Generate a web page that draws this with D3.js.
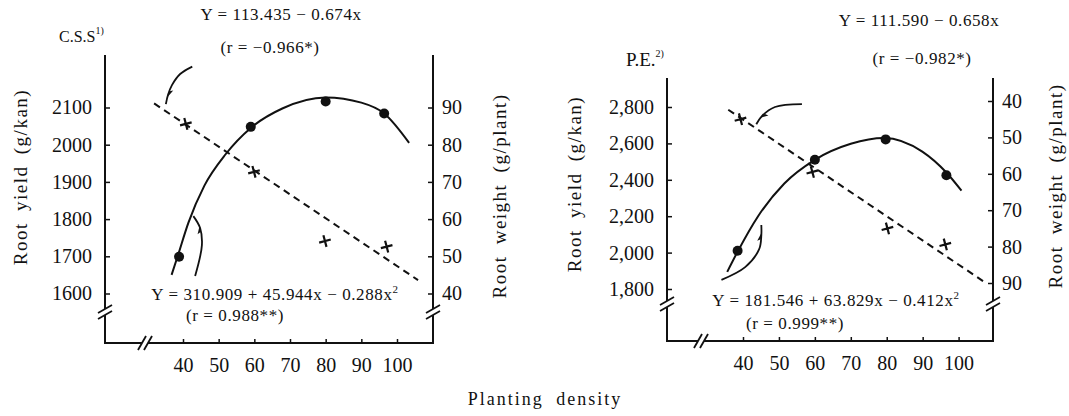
<!DOCTYPE html>
<html>
<head>
<meta charset="utf-8">
<script src="https://cdn.jsdelivr.net/npm/d3@7"></script>
<style>
  body { margin: 0; background: #fff; }
  svg text { font-family: "Liberation Serif", "Times New Roman", serif; fill: #111; }
</style>
</head>
<body>
<svg id="chart" width="1069" height="416"></svg>
<script>
// ---- data ----
const densityTicks = [40, 50, 60, 70, 80, 90, 100];

// C.S.S panel
const cssYieldTicks = [1600, 1700, 1800, 1900, 2000, 2100];
const cssWeightTicks = [40, 50, 60, 70, 80, 90];
const cssYieldDensity = [38.9, 59.0, 80.0, 96.4];
const cssYield = [1699, 2048, 2116, 2084];
const cssWeightDensity = [40.8, 59.9, 79.8, 97.1];
const cssWeight = [85.6, 72.7, 54.1, 52.6];
// fitted curve / line as drawn
const cssCurveDensity = [36.8, 38.5, 41.5, 46, 52, 59, 68, 80, 90, 96.4, 103.4];
const cssCurveYield = [1650, 1700, 1790, 1890, 1975, 2045, 2098, 2127, 2113, 2084, 2005];
const cssLineDensity = [31.9, 105.9];
const cssLineWeight = [91.1, 43.6];

// P.E. panel
const peYieldTicks = [1800, 2000, 2200, 2400, 2600, 2800];
const peWeightTicks = [40, 50, 60, 70, 80, 90];
const peYieldDensity = [38.5, 60.0, 79.7, 96.6];
const peYield = [2010, 2510, 2622, 2425];
const peWeightDensity = [39.3, 59.3, 80.2, 96.3];
const peWeight = [45.0, 59.5, 75.0, 79.4];
const peCurveDensity = [35.6, 38.5, 44.2, 51.5, 60, 70, 79.2, 89.9, 96.6, 100.8];
const peCurveYield = [1894, 2005, 2200, 2380, 2510, 2598, 2630, 2555, 2440, 2340];
const peLineDensity = [35.9, 107];
const peLineWeight = [42.4, 89.6];

// annotation arrows (density, yield); second-to-last point carries the head
const cssArrowTop = [[42.6, 2210], [39.2, 2190], [36.9, 2160], [35.8, 2134], [35.2, 2109]];
const cssArrowBottom = [[43.4, 1647], [45.3, 1730], [44.8, 1776], [42.9, 1808]];
const peArrowTop = [[56.4, 2816], [48.9, 2800], [45.2, 2749], [43.7, 2705]];
const peArrowBottom = [[34.0, 1850], [40.6, 1920], [44.5, 2019], [45.1, 2095], [45.1, 2152]];

const svg = d3.select("#chart");

const panels = [
  {
    xRange: [183, 397], left: 105, right: 433, top: 55, bottom: 343, yBreak: 312, xBreak: 145,
    yieldDomain: [1600, 2100], yieldRange: [293.5, 107.5], yieldTicks: cssYieldTicks, yieldFmt: d3.format("d"),
    weightDomain: [40, 90], weightRange: [293.5, 107.5], weightTicks: cssWeightTicks,
    yieldDensity: cssYieldDensity, yieldVals: cssYield,
    weightDensity: cssWeightDensity, weightVals: cssWeight,
    curveX: cssCurveDensity, curveY: cssCurveYield,
    lineX: cssLineDensity, lineY: cssLineWeight,
    arrows: [cssArrowTop, cssArrowBottom],
    yieldTitleX: 20, yieldTitleY: 177, weightTitleX: 499, weightTitleY: 196
  },
  {
    xRange: [743, 958.6], left: 667, right: 993, top: 78, bottom: 341, yBreak: 304, xBreak: 701,
    yieldDomain: [1800, 2800], yieldRange: [289, 107], yieldTicks: peYieldTicks, yieldFmt: d3.format(","),
    weightDomain: [40, 90], weightRange: [101, 283], weightTicks: peWeightTicks,
    yieldDensity: peYieldDensity, yieldVals: peYield,
    weightDensity: peWeightDensity, weightVals: peWeight,
    curveX: peCurveDensity, curveY: peCurveYield,
    lineX: peLineDensity, lineY: peLineWeight,
    arrows: [peArrowTop, peArrowBottom],
    yieldTitleX: 574, yieldTitleY: 184, weightTitleX: 1055, weightTitleY: 186
  }
];

function breakMark(g, cx, cy, vertical) {
  // two short slanted strokes with a gap in the axis
  g.append("rect").attr("x", cx - 3).attr("y", cy - 3).attr("width", 6).attr("height", 6).attr("fill", "#fff");
  [-3, 3].forEach(off => {
    if (vertical) {
      g.append("line").attr("x1", cx - 7).attr("y1", cy + off + 4).attr("x2", cx + 7).attr("y2", cy + off - 4)
        .attr("stroke", "#111").attr("stroke-width", 1.8);
    } else {
      g.append("line").attr("x1", cx + off - 4).attr("y1", cy + 7).attr("x2", cx + off + 4).attr("y2", cy - 7)
        .attr("stroke", "#111").attr("stroke-width", 1.8);
    }
  });
}

panels.forEach(p => {
  const g = svg.append("g");
  const x = d3.scaleLinear().domain([40, 100]).range(p.xRange);
  const yY = d3.scaleLinear().domain(p.yieldDomain).range(p.yieldRange);
  const yW = d3.scaleLinear().domain(p.weightDomain).range(p.weightRange);

  // frame lines (left, bottom, right)
  g.append("path")
    .attr("d", `M${p.left},${p.top}V${p.bottom}H${p.right}V${p.top}`)
    .attr("fill", "none").attr("stroke", "#111").attr("stroke-width", 2);

  // axes
  const axL = g.append("g").attr("transform", `translate(${p.left},0)`)
    .call(d3.axisLeft(yY).tickValues(p.yieldTicks).tickFormat(p.yieldFmt).tickSize(-5).tickPadding(13));
  const axR = g.append("g").attr("transform", `translate(${p.right},0)`)
    .call(d3.axisRight(yW).tickValues(p.weightTicks).tickSize(-5).tickPadding(9));
  const axB = g.append("g").attr("transform", `translate(0,${p.bottom})`)
    .call(d3.axisBottom(x).tickValues(densityTicks).tickSize(-4).tickPadding(15));
  [axL, axR, axB].forEach(a => {
    a.select(".domain").remove();
    a.selectAll(".tick line").attr("stroke", "#111").attr("stroke-width", 1.5);
    a.selectAll(".tick text").style("font-family", '"Liberation Serif", serif')
      .style("font-size", "20px").attr("fill", "#111");
  });

  breakMark(g, p.left, p.yBreak, true);
  breakMark(g, p.right, p.yBreak, true);
  breakMark(g, p.xBreak, p.bottom, false);

  // quadratic fit (yield) as drawn
  const curvePts = p.curveX.map((d, i) => [d, p.curveY[i]]);
  g.append("path")
    .attr("d", d3.line().x(d => x(d[0])).y(d => yY(d[1])).curve(d3.curveMonotoneX)(curvePts))
    .attr("fill", "none").attr("stroke", "#111").attr("stroke-width", 2);

  // linear fit (weight), dashed
  const linePts = p.lineX.map((d, i) => [d, p.lineY[i]]);
  g.append("path")
    .attr("d", d3.line().x(d => x(d[0])).y(d => yW(d[1]))(linePts))
    .attr("fill", "none").attr("stroke", "#111").attr("stroke-width", 2).attr("stroke-dasharray", "7,5");

  // yield points
  g.selectAll(".dot").data(p.yieldDensity.map((d, i) => [d, p.yieldVals[i]]))
    .join("circle").attr("class", "dot")
    .attr("cx", d => x(d[0])).attr("cy", d => yY(d[1])).attr("r", 5).attr("fill", "#111");

  // weight points (crosses)
  g.selectAll(".cross").data(p.weightDensity.map((d, i) => [d, p.weightVals[i]]))
    .join("path").attr("class", "cross")
    .attr("transform", d => `translate(${x(d[0])},${yW(d[1])}) rotate(-15)`)
    .attr("d", "M-6,0H6M0,-6V6")
    .attr("stroke", "#111").attr("stroke-width", 2.2).attr("fill", "none");

  // arrows
  p.arrows.forEach(pts => {
    const line = d3.line().x(d => x(d[0])).y(d => yY(d[1])).curve(d3.curveCatmullRom.alpha(0.5));
    g.append("path").attr("d", line(pts)).attr("fill", "none").attr("stroke", "#111").attr("stroke-width", 1.8);
    const h = pts[pts.length - 2], prev = pts[pts.length - 3];
    const hx = x(h[0]), hy = yY(h[1]);
    const ang = Math.atan2(hy - yY(prev[1]), hx - x(prev[0])) * 180 / Math.PI;
    g.append("path").attr("transform", `translate(${hx},${hy}) rotate(${ang})`)
      .attr("d", "M3,0L-6,-3.2L-4,0Z").attr("fill", "#111");
  });

  // axis titles
  g.append("text").attr("transform", `translate(${p.yieldTitleX},${p.yieldTitleY}) rotate(-90)`)
    .attr("text-anchor", "middle").attr("dy", "0.35em").style("font-size", "19px")
    .style("letter-spacing", "1.5px").style("word-spacing", "5px")
    .text("Root yield (g/kan)");
  g.append("text").attr("transform", `translate(${p.weightTitleX},${p.weightTitleY}) rotate(-90)`)
    .attr("text-anchor", "middle").attr("dy", "0.35em").style("font-size", "19px")
    .style("letter-spacing", "1.5px").style("word-spacing", "5px")
    .text("Root weight (g/plant)");
});

// equations and panel names
function label(txt, xPos, yPos, size, anchor) {
  return svg.append("text").attr("x", xPos).attr("y", yPos).attr("text-anchor", anchor || "middle")
    .style("font-size", size + "px").style("letter-spacing", "0.6px").text(txt);
}

label("Y = 113.435 − 0.674x", 281, 20, 17);
label("(r = −0.966*)", 270, 53, 17);
label("Y = 111.590 − 0.658x", 919, 26, 17);
label("(r = −0.982*)", 922, 64, 17);

const eq1 = label("Y = 310.909 + 45.944x − 0.288x", 275, 300, 17);
eq1.append("tspan").attr("dy", -7).style("font-size", "11px").text("2");
label("(r = 0.988**)", 235, 321, 17);
const eq2 = label("Y = 181.546 + 63.829x − 0.412x", 836, 306, 17);
eq2.append("tspan").attr("dy", -7).style("font-size", "11px").text("2");
label("(r = 0.999**)", 795, 329, 17);

const css = label("C.S.S", 59, 42, 16, "start").style("letter-spacing", "0px");
css.append("tspan").attr("dy", -8).style("font-size", "10px").text("1)");
const pe = label("P.E.", 626, 66, 19, "start").style("letter-spacing", "0px");
pe.append("tspan").attr("dy", -9).style("font-size", "10px").text("2)");

label("Planting density", 545, 405, 18).style("letter-spacing", "2px").style("word-spacing", "6px");
</script>
</body>
</html>
